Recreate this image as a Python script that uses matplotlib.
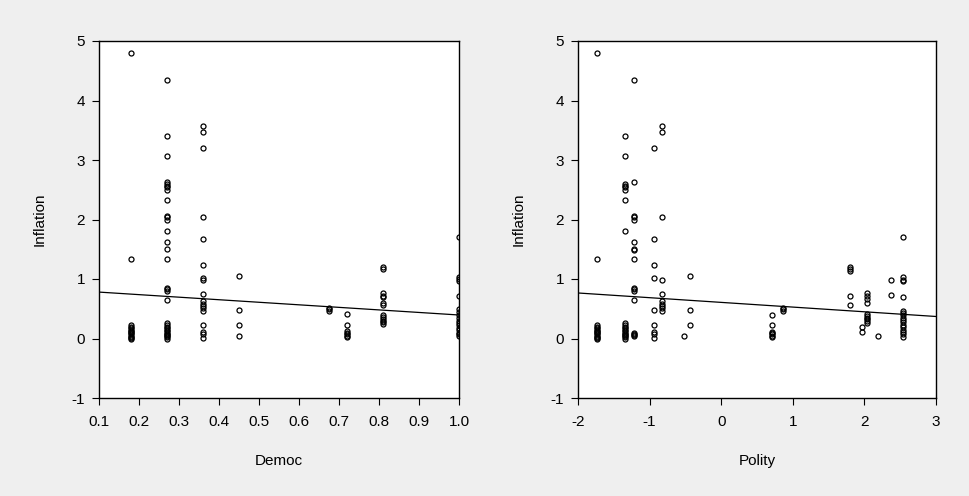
import matplotlib
matplotlib.use("Agg")
import matplotlib.pyplot as plt
import numpy as np

plt.rcParams['font.family'] = ['Liberation Sans', 'DejaVu Sans']

# ---------------- data: Inflation vs Democ ----------------
democ_levels = [0.18, 0.27, 0.36, 0.45, 0.675, 0.72, 0.81, 1.0]
democ_inflation = [
    [4.79, 1.34, 0.22, 0.19, 0.17, 0.15, 0.13, 0.11, 0.09, 0.07, 0.05, 0.03, 0.01, 0.0],
    [4.34, 3.40, 3.06, 2.63, 2.60, 2.57, 2.54, 2.50, 2.32, 2.06, 2.04, 1.99, 1.80, 1.63,
     1.50, 1.33, 0.85, 0.83, 0.80, 0.65, 0.26, 0.23, 0.20, 0.17, 0.14, 0.12, 0.10, 0.08,
     0.06, 0.04, 0.02, 0.0],
    [3.57, 3.47, 3.20, 2.05, 1.68, 1.24, 1.01, 0.98, 0.75, 0.63, 0.58, 0.55, 0.51, 0.47,
     0.23, 0.11, 0.07, 0.01],
    [1.05, 0.48, 0.22, 0.04],
    [0.52, 0.49, 0.46],
    [0.41, 0.22, 0.13, 0.10, 0.07, 0.05, 0.03],
    [1.21, 1.16, 0.76, 0.72, 0.69, 0.60, 0.56, 0.39, 0.36, 0.33, 0.30, 0.27, 0.25],
    [1.70, 1.04, 1.00, 0.96, 0.71, 0.50, 0.45, 0.40, 0.35, 0.30, 0.26, 0.22, 0.18, 0.14,
     0.10, 0.07, 0.04],
]
democ_fit = [0.78, 0.395]          # fitted inflation at Democ = 0.1 and 1.0

# ---------------- data: Inflation vs Polity ----------------
polity_levels = [-1.74, -1.34, -1.22, -0.94, -0.82, -0.515, -0.43,
                 0.71, 0.86, 1.80, 1.97, 2.04, 2.19, 2.37, 2.54]
polity_inflation = [
    [4.79, 1.34, 0.22, 0.19, 0.17, 0.15, 0.13, 0.11, 0.09, 0.07, 0.05, 0.03, 0.01, 0.0],
    [3.40, 3.06, 2.60, 2.57, 2.54, 2.50, 2.32, 1.80, 0.26, 0.23, 0.20, 0.17, 0.14, 0.12,
     0.10, 0.08, 0.06, 0.04, 0.02, 0.0],
    [4.34, 2.63, 2.06, 2.04, 1.99, 1.63, 1.50, 1.49, 1.33, 0.85, 0.83, 0.80, 0.65,
     0.10, 0.08, 0.06, 0.04],
    [3.20, 1.68, 1.24, 1.01, 0.48, 0.23, 0.11, 0.07, 0.01],
    [3.57, 3.47, 2.05, 0.98, 0.75, 0.63, 0.58, 0.55, 0.51, 0.47],
    [0.04],
    [1.05, 0.48, 0.22],
    [0.40, 0.22, 0.11, 0.09, 0.07, 0.05, 0.03],
    [0.52, 0.49, 0.46],
    [1.21, 1.17, 1.14, 0.71, 0.56],
    [0.20, 0.11],
    [0.76, 0.71, 0.66, 0.60, 0.41, 0.38, 0.35, 0.32, 0.29, 0.26],
    [0.04],
    [0.98, 0.73],
    [1.71, 1.04, 0.99, 0.96, 0.70, 0.47, 0.43, 0.39, 0.35, 0.31, 0.27, 0.23, 0.19,
     0.15, 0.11, 0.07, 0.03],
]
polity_fit = [0.765, 0.37]         # fitted inflation at Polity = -2 and 3

y_ticks = [-1, 0, 1, 2, 3, 4, 5]
democ_ticks = [0.1, 0.2, 0.3, 0.4, 0.5, 0.6, 0.7, 0.8, 0.9, 1.0]
democ_ticklabels = ["0.1", "0.2", "0.3", "0.4", "0.5", "0.6", "0.7", "0.8", "0.9", "1.0"]
polity_ticks = [-2, -1, 0, 1, 2, 3]
polity_ticklabels = ["-2", "-1", "0", "1", "2", "3"]

BG = "#efefef"
fig = plt.figure(figsize=(9.69, 4.96), dpi=100, facecolor=BG)

W, H = 969, 496
def make_ax(x0, x1, y0, y1):
    return fig.add_axes([x0 / W, 1 - y1 / H, (x1 - x0) / W, (y1 - y0) / H])

ax1 = make_ax(99, 459, 41, 398)
ax2 = make_ax(578, 936, 41, 398)

def flatten(levels, groups):
    xs, ys = [], []
    for lv, g in zip(levels, groups):
        xs += [lv] * len(g)
        ys += g
    return np.array(xs), np.array(ys)

def style(ax, xlim, xticks, xlabels, xlabel):
    ax.set_facecolor("white")
    ax.set_xlim(*xlim)
    ax.set_ylim(-1, 5)
    ax.set_xticks(xticks)
    ax.set_xticklabels(xlabels)
    ax.set_yticks(y_ticks)
    ax.set_yticklabels([str(t) for t in y_ticks])
    ax.tick_params(direction="out", length=5, width=0.8, colors="black",
                   labelsize=11)
    ax.tick_params(axis="x", pad=7)
    ax.tick_params(axis="y", pad=5)
    for s in ax.spines.values():
        s.set_linewidth(1.0)
        s.set_color("black")
    ax.set_xlabel(xlabel, fontsize=11, labelpad=18)
    ax.set_ylabel("Inflation", fontsize=11, labelpad=18)

dx, dy = flatten(democ_levels, democ_inflation)
ax1.plot(dx, dy, linestyle="none", marker="o", markersize=3.6,
         markerfacecolor="none", markeredgecolor="black", markeredgewidth=0.9)
ax1.plot([0.1, 1.0], democ_fit, color="black", linewidth=0.9)
style(ax1, (0.1, 1.0), democ_ticks, democ_ticklabels, "Democ")

px, py = flatten(polity_levels, polity_inflation)
ax2.plot(px, py, linestyle="none", marker="o", markersize=3.6,
         markerfacecolor="none", markeredgecolor="black", markeredgewidth=0.9)
ax2.plot([-2, 3], polity_fit, color="black", linewidth=0.9)
style(ax2, (-2, 3), polity_ticks, polity_ticklabels, "Polity")

fig.savefig("out.png", dpi=100, facecolor=BG)
